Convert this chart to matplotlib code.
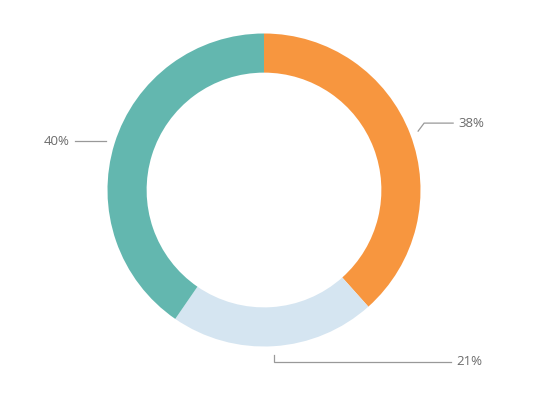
import numpy as np
import matplotlib.pyplot as plt

labels = ["38%", "21%", "40%"]
values = [38, 21, 40]
colors = ["#F7963F", "#D5E5F1", "#63B7AF"]

W, H = 545, 400
cx, cy = 264, 400 - 190
R = 156.5

fig = plt.figure(figsize=(5.45, 4.0), dpi=100)
ax = fig.add_axes([0, 0, 1, 1])

wedges, _ = ax.pie(values, colors=colors, startangle=90, counterclock=False,
                   center=(cx, cy), radius=R, frame=True,
                   wedgeprops=dict(width=R * 0.25, linewidth=0))
ax.set_xlim(0, W)
ax.set_ylim(0, H)
ax.set_aspect("equal")
ax.axis("off")

# leader lines: start just outside ring at mid angle, then elbow to label
# (dx, dy) of the elbow and horizontal length, in pixels
elbows = [(6, 8, 29), (0, -7, 177), (0, 0, -31)]
for w, lab, (ex, ey, hl) in zip(wedges, labels, elbows):
    ang = np.deg2rad((w.theta1 + w.theta2) / 2)
    x0 = cx + 165 * np.cos(ang)
    y0 = cy + 165 * np.sin(ang)
    x1, y1 = x0 + ex, y0 + ey
    x2 = x1 + hl
    ax.plot([x0, x1, x2], [y0, y1, y1], color="#999999", lw=0.9,
            solid_joinstyle="miter")
    if hl > 0:
        ax.text(x2 + 5, y1, lab, ha="left", va="center", fontsize=9.5,
                color="#6b6b6b", family="Open Sans")
    else:
        ax.text(x2 - 6, y1, lab, ha="right", va="center", fontsize=9.5,
                color="#6b6b6b", family="Open Sans")

fig.savefig("out.png", dpi=100)
